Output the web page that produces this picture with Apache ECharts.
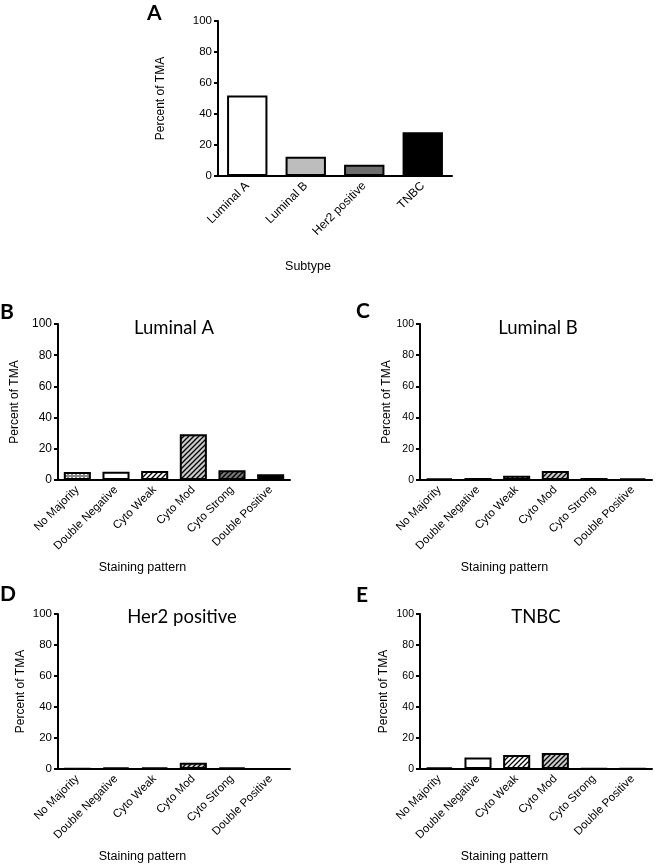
<!DOCTYPE html>
<html><head><meta charset="utf-8">
<script src="https://cdn.jsdelivr.net/npm/echarts@6/dist/echarts.min.js"></script>
<style>html,body{margin:0;padding:0;background:#fff}#c{width:656px;height:868px}</style>
</head><body><div id="c"></div>
<script>
// ---- data ----
const subtypes = ['Luminal A', 'Luminal B', 'Her2 positive', 'TNBC'];
const subtypeValues = [52, 12.5, 7.2, 28.3];
const patternsCat = ['No Majority', 'Double Negative', 'Cyto Weak', 'Cyto Mod', 'Cyto Strong', 'Double Positive'];
const luminalAValues = [5.1, 5.3, 5.8, 29.3, 6.2, 3.7];
const luminalBValues = [1, 1.3, 2.7, 5.8, 1.3, 1];
const her2Values = [0.4, 1, 1, 4.1, 1, 0];
const tnbcValues = [1, 7.5, 9, 10.3, 0.4, 0.4];
const yTicks = [0, 20, 40, 60, 80, 100];

// ---- fills ----
function stripe(bg) {
  const s = 5, c = document.createElement('canvas');
  c.width = s; c.height = s;
  const g = c.getContext('2d');
  g.fillStyle = bg; g.fillRect(0, 0, s, s);
  g.strokeStyle = '#000'; g.lineWidth = 1.3;
  g.beginPath();
  g.moveTo(-1, s + 1); g.lineTo(s + 1, -1);
  g.moveTo(-1, 1); g.lineTo(1, -1);
  g.moveTo(s - 1, s + 1); g.lineTo(s + 1, s - 1);
  g.stroke();
  return { image: c, repeat: 'repeat' };
}
function dots() {
  const s = 4, c = document.createElement('canvas');
  c.width = s; c.height = s;
  const g = c.getContext('2d');
  g.fillStyle = '#8a8a8a'; g.fillRect(0, 0, s, s);
  g.fillStyle = '#fff'; g.fillRect(1, 1, 2, 2);
  return { image: c, repeat: 'repeat' };
}
const subtypeFills = ['#ffffff', '#bdbdbd', '#6e6e6e', '#000000'];
const patternFills = [dots(), '#ffffff', stripe('#ffffff'), stripe('#cccccc'), stripe('#777777'), '#000000'];

const FONT = '"Liberation Sans", Arial, sans-serif';
const TFONT = 'Lato, "Open Sans", sans-serif';

const grids = [
  { left: 218, top: 21, width: 234, height: 155 },
  { left: 58, top: 324, width: 232, height: 156 },
  { left: 420, top: 324, width: 232, height: 156 },
  { left: 58, top: 614, width: 232, height: 155 },
  { left: 420, top: 614, width: 232, height: 155 }
];
const yNameGaps = [51, 37, 25, 31, 30];
const yLabelSizes = [11.5, 12, 10.5, 11.5, 10.5];

function xAxis(i, cats, name, gap, padRight, fs) {
  return {
    type: 'category', gridIndex: i, data: cats,
    axisLine: { lineStyle: { color: '#000', width: 2 } },
    axisTick: { alignWithLabel: true, length: 4, lineStyle: { color: '#000', width: 2 } },
    axisLabel: { rotate: 45, interval: 0, fontSize: fs, color: '#000', margin: 8, fontFamily: FONT },
    name: name, nameLocation: 'middle', nameGap: gap,
    nameTextStyle: { fontSize: 12.5, color: '#000', fontFamily: FONT, padding: [0, padRight, 0, 0] }
  };
}
function yAxis(i) {
  return {
    type: 'value', gridIndex: i, min: 0, max: 100, interval: 20,
    axisLine: { show: true, lineStyle: { color: '#000', width: 2 } },
    axisTick: { show: true, length: 4, lineStyle: { color: '#000', width: 2 } },
    splitLine: { show: false },
    axisLabel: { fontSize: yLabelSizes[i], color: '#000', margin: 6, fontFamily: FONT,
      formatter: v => (yTicks.indexOf(v) >= 0 ? String(v) : '') },
    name: 'Percent of TMA', nameLocation: 'middle', nameGap: yNameGaps[i],
    nameTextStyle: { fontSize: 12, color: '#000', fontFamily: FONT }
  };
}
function bars(i, values, fills, width) {
  return {
    type: 'bar', xAxisIndex: i, yAxisIndex: i, barWidth: width,
    data: values.map((v, k) => ({ value: v, itemStyle: { color: fills[k] } })),
    itemStyle: { borderColor: '#000', borderWidth: 2 },
    emphasis: { disabled: true }, silent: true
  };
}

const titles = [
  { t: 'Luminal A', x: 174, y: 328 },
  { t: 'Luminal B', x: 538, y: 328 },
  { t: 'Her2 positive', x: 182, y: 617 },
  { t: 'TNBC', x: 536, y: 617 }
];
const letters = [
  { t: 'A', x: 147, y: 13 }, { t: 'B', x: 0, y: 312 }, { t: 'C', x: 356, y: 311 },
  { t: 'D', x: 0, y: 594 }, { t: 'E', x: 356, y: 595 }
];

const graphic = [];
titles.forEach(o => graphic.push({ type: 'text', x: o.x, y: o.y,
  style: { text: o.t, fontSize: 18.5, fontFamily: TFONT, fill: '#000', align: 'center', verticalAlign: 'middle' } }));
letters.forEach(o => graphic.push({ type: 'text', x: o.x, y: o.y,
  style: { text: o.t, fontSize: 21, fontWeight: 'bold', fontFamily: TFONT, fill: '#000', align: 'left', verticalAlign: 'middle' } }));

const chart = echarts.init(document.getElementById('c'), null, { renderer: 'canvas' });
chart.setOption({
  animation: false,
  backgroundColor: '#fff',
  grid: grids.map(g => Object.assign({ containLabel: false }, g)),
  xAxis: [
    xAxis(0, subtypes, 'Subtype', 84, 54, 12),
    xAxis(1, patternsCat, 'Staining pattern', 81, 63, 11.5),
    xAxis(2, patternsCat, 'Staining pattern', 81, 63, 11.5),
    xAxis(3, patternsCat, 'Staining pattern', 81, 63, 11.5),
    xAxis(4, patternsCat, 'Staining pattern', 81, 63, 11.5)
  ],
  yAxis: [yAxis(0), yAxis(1), yAxis(2), yAxis(3), yAxis(4)],
  series: [
    bars(0, subtypeValues, subtypeFills, '69%'),
    bars(1, luminalAValues, patternFills, '70%'),
    bars(2, luminalBValues, patternFills, '70%'),
    bars(3, her2Values, patternFills, '70%'),
    bars(4, tnbcValues, patternFills, '70%')
  ],
  graphic: graphic
});
</script></body></html>
